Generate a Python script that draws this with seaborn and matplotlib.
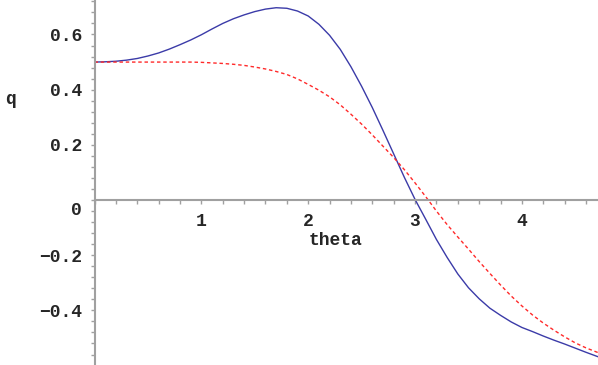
import numpy as np
import pandas as pd
import matplotlib
matplotlib.use("Agg")
import matplotlib.pyplot as plt
import matplotlib.transforms as mtransforms
import seaborn as sns
from matplotlib.ticker import MultipleLocator

# values
theta = [0.0, 0.1, 0.2, 0.3, 0.4, 0.5, 0.6, 0.7, 0.8, 0.9, 1.0, 1.1, 1.2, 1.3, 1.4,
         1.5, 1.6, 1.7, 1.8, 1.9, 2.0, 2.1, 2.2, 2.3, 2.4, 2.5, 2.6, 2.7, 2.8, 2.9,
         3.0, 3.1, 3.2, 3.3, 3.4, 3.5, 3.6, 3.7, 3.8, 3.9, 4.0, 4.1, 4.2, 4.3, 4.4,
         4.5, 4.6, 4.712]
q_blue = [0.500, 0.501, 0.503, 0.507, 0.513, 0.522, 0.533, 0.547, 0.563, 0.580,
          0.599, 0.620, 0.640, 0.657, 0.671, 0.683, 0.692, 0.697, 0.695, 0.685,
          0.667, 0.637, 0.597, 0.546, 0.483, 0.412, 0.335, 0.252, 0.167, 0.082,
          0.002, -0.070, -0.143, -0.208, -0.268, -0.318, -0.358, -0.392, -0.418,
          -0.442, -0.462, -0.477, -0.493, -0.508, -0.522, -0.537, -0.552, -0.568]
q_red = [0.500, 0.500, 0.500, 0.500, 0.500, 0.500, 0.500, 0.500, 0.500, 0.500,
         0.499, 0.497, 0.495, 0.492, 0.488, 0.482, 0.475, 0.466, 0.455, 0.439,
         0.419, 0.398, 0.374, 0.345, 0.311, 0.275, 0.236, 0.195, 0.154, 0.110,
         0.062, 0.012, -0.040, -0.089, -0.134, -0.178, -0.223, -0.266, -0.308,
         -0.348, -0.384, -0.417, -0.446, -0.472, -0.496, -0.518, -0.536, -0.553]

df = pd.DataFrame({"theta": theta, "blue": q_blue, "red": q_red})

sns.set_style("white")
plt.rcParams["font.family"] = ["Liberation Mono", "DejaVu Sans"]

fig = plt.figure(figsize=(5.98, 3.65), dpi=100)
ax = fig.add_axes([94.5 / 598, 0, 1 - 94.5 / 598, 1])

sns.lineplot(data=df, x="theta", y="blue", color="#3b3ba8", lw=1.0, ax=ax)
sns.lineplot(data=df, x="theta", y="red", color="#ff2a2a", lw=1.0, ax=ax,
             linestyle=(0, (2.5, 2)))

ax.set_xlim(0, 4.712)
ax.set_ylim(-0.598, 0.725)

for s in ["top", "right"]:
    ax.spines[s].set_visible(False)
ax.spines["left"].set_position(("data", 0))
ax.spines["bottom"].set_position(("data", 0))
for s in ["left", "bottom"]:
    ax.spines[s].set_color("#a0a0a0")
    ax.spines[s].set_linewidth(1.5)

ax.set_xticks([1, 2, 3, 4])
ax.set_xticklabels(["1", "2", "3", "4"])
ax.set_yticks([-0.4, -0.2, 0, 0.2, 0.4, 0.6])
ax.set_yticklabels(["\u22120.4", "\u22120.2", "0", "0.2", "0.4", "0.6"])
ax.xaxis.set_minor_locator(MultipleLocator(0.2))
ax.yaxis.set_minor_locator(MultipleLocator(0.04))
ax.tick_params(which="both", direction="out", length=3, width=1, color="#a0a0a0",
               bottom=True, left=True)
ax.tick_params(which="major", labelsize=13, pad=6)
for lab in ax.get_xticklabels() + ax.get_yticklabels():
    lab.set_fontweight("bold")

# the "0" label sits a little below the origin
zero_lab = ax.get_yticklabels()[2]
zero_lab.set_transform(zero_lab.get_transform() +
                       mtransforms.ScaledTranslation(0, -8 / 100, fig.dpi_scale_trans))

ax.set_xlabel("")
ax.set_ylabel("")
ax.text(2.0, -0.145, "theta", fontsize=13, fontweight="bold", ha="left", va="center")
fig.text(5 / 598, 1 - 100 / 365, "q", fontsize=13, fontweight="bold",
         ha="left", va="center")

fig.savefig("out.png", dpi=100)
